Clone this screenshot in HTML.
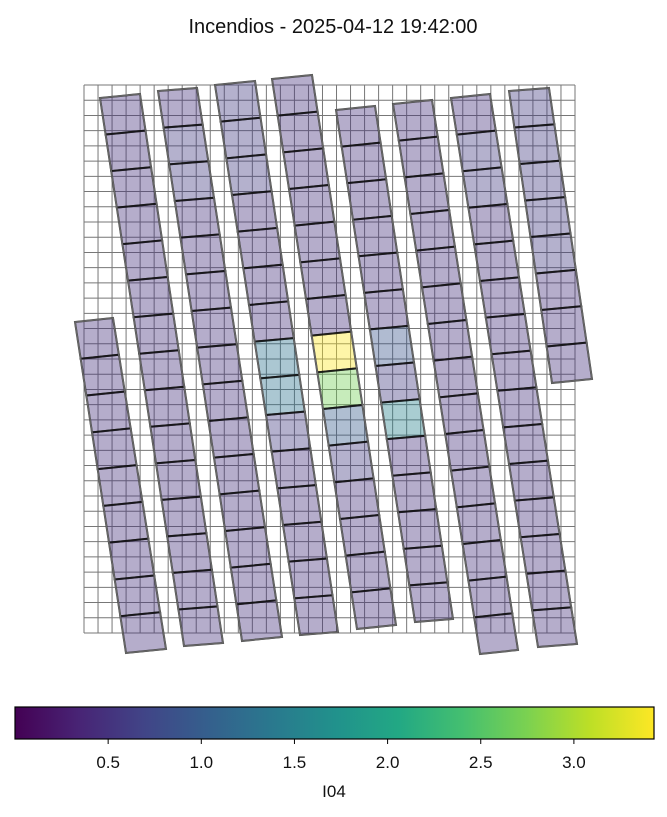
<!DOCTYPE html>
<html><head><meta charset="utf-8">
<style>
html,body{margin:0;padding:0;background:#fff;}
svg{display:block;font-family:"Liberation Sans","DejaVu Sans",sans-serif;}
</style></head>
<body>
<svg id="chart" width="667" height="817" viewBox="0 0 667 817" xmlns="http://www.w3.org/2000/svg">
<text x="333" y="33" text-anchor="middle" font-size="20" fill="#111">Incendios - 2025-04-12 19:42:00</text>
<g id="grid"></g>
<g id="strips"></g>
<defs>
<linearGradient id="viridis" x1="0" x2="1" y1="0" y2="0">
<stop offset="0" stop-color="#440154"/><stop offset="0.1" stop-color="#482475"/><stop offset="0.2" stop-color="#414487"/><stop offset="0.3" stop-color="#355f8d"/><stop offset="0.4" stop-color="#2a788e"/><stop offset="0.5" stop-color="#21918c"/><stop offset="0.6" stop-color="#22a884"/><stop offset="0.7" stop-color="#44bf70"/><stop offset="0.8" stop-color="#7ad151"/><stop offset="0.9" stop-color="#bddf26"/><stop offset="1" stop-color="#fde725"/>
</linearGradient>
</defs>
<rect x="15" y="707" width="639" height="32" fill="url(#viridis)" stroke="#000" stroke-width="1.2"/>
<g id="cbticks"></g>
<text x="334" y="797" text-anchor="middle" font-size="17" fill="#111">I04</text>
</svg>
<script>
const NS="http://www.w3.org/2000/svg";
const vmin=0, vmax=3.43;
const tickValues=[0.5,1.0,1.5,2.0,2.5,3.0];
const tickLabels=["0.5","1.0","1.5","2.0","2.5","3.0"];
const valsL=[0.5,0.5,0.5,0.5,0.5,0.5,0.5,0.5,0.5];
const vals1=[0.5,0.5,0.5,0.5,0.5,0.5,0.5,0.5,0.5,0.5,0.5,0.5,0.5,0.5,0.5];
const vals2=[0.5,0.6,0.6,0.5,0.5,0.5,0.5,0.5,0.5,0.5,0.5,0.5,0.5,0.5,0.5];
const vals3=[0.6,0.6,0.6,0.5,0.5,0.5,0.5,1.3,1.3,0.6,0.5,0.5,0.5,0.5,0.5];
const vals4=[0.5,0.5,0.5,0.5,0.5,0.5,0.5,3.43,2.7,1.0,0.6,0.5,0.5,0.5,0.5];
const vals5=[0.5,0.5,0.5,0.5,0.5,0.5,0.9,0.6,1.5,0.5,0.5,0.5,0.5,0.5];
const vals6=[0.5,0.5,0.5,0.5,0.5,0.5,0.5,0.5,0.5,0.5,0.5,0.5,0.5,0.5,0.5];
const vals7=[0.5,0.6,0.6,0.5,0.5,0.5,0.5,0.5,0.5,0.5,0.5,0.5,0.5,0.5,0.5];
const vals8=[0.6,0.6,0.6,0.6,0.6,0.5,0.5,0.5];
const strips=[
 {v:valsL,c:[[75,322],[113,318],[166,649],[126,653]]},
 {v:vals1,c:[[100,98],[140,94],[223,643],[184,646]]},
 {v:vals2,c:[[158,91],[197,88],[282,637],[242,641]]},
 {v:vals3,c:[[215,85],[255,81],[338,632],[300,635]]},
 {v:vals4,c:[[272,79],[312,75],[396,625],[357,629]]},
 {v:vals5,c:[[336,110],[375,106],[453,619],[415,622]]},
 {v:vals6,c:[[393,104],[432,100],[518,650],[480,654]]},
 {v:vals7,c:[[451,98],[490,94],[577,644],[538,647]]},
 {v:vals8,c:[[509,91],[549,88],[592,379],[552,383]]}
];
const stops=[[0,[68,1,84]],[0.1,[72,36,117]],[0.2,[65,68,135]],[0.3,[53,95,141]],[0.4,[42,120,142]],[0.5,[33,145,140]],[0.6,[34,168,132]],[0.7,[68,191,112]],[0.8,[122,209,81]],[0.9,[189,223,38]],[1,[253,231,37]]];
function viridis(v){
  let t=Math.max(0,Math.min(1,(v-vmin)/(vmax-vmin)));
  for(let i=1;i<stops.length;i++){
    if(t<=stops[i][0]){const a=stops[i-1],b=stops[i];const f=(t-a[0])/(b[0]-a[0]);
      return "rgb("+[0,1,2].map(k=>Math.round(a[1][k]+(b[1][k]-a[1][k])*f)).join(",")+")";}
  }
  return "rgb(253,231,37)";
}
function xCb(v){return 15+(v-vmin)/(vmax-vmin)*639;}
const grid=document.getElementById('grid');
const gx0=84,gx1=575,gy0=85,gy1=633,ncol=35,nrow=36;
for(let i=0;i<=ncol;i++){const x=gx0+(gx1-gx0)*i/ncol;const l=document.createElementNS(NS,'line');
 l.setAttribute('x1',x);l.setAttribute('x2',x);l.setAttribute('y1',gy0);l.setAttribute('y2',gy1);
 l.setAttribute('stroke','#777');l.setAttribute('stroke-width','1');
 
 
 grid.appendChild(l);}
for(let j=0;j<=nrow;j++){const y=gy0+(gy1-gy0)*j/nrow;const l=document.createElementNS(NS,'line');
 l.setAttribute('x1',gx0);l.setAttribute('x2',gx1);l.setAttribute('y1',y);l.setAttribute('y2',y);
 l.setAttribute('stroke','#777');l.setAttribute('stroke-width','1');
 
 
 grid.appendChild(l);}
const sg=document.getElementById('strips');
function lerp(p,q,t){return [p[0]+(q[0]-p[0])*t,p[1]+(q[1]-p[1])*t];}
strips.forEach((s,si)=>{
  const [TL,TR,BR,BL]=s.c;const n=s.v.length;
  const g=document.createElementNS(NS,'g');
  
  
  s.v.forEach((val,k)=>{
    const a=lerp(TL,BL,k/n),b=lerp(TR,BR,k/n),c=lerp(TR,BR,(k+1)/n),d=lerp(TL,BL,(k+1)/n);
    const p=document.createElementNS(NS,'polygon');
    p.setAttribute('points',[a,b,c,d].map(q=>q.join(',')).join(' '));
    p.setAttribute('fill',viridis(val));p.setAttribute('fill-opacity','0.4');
    p.setAttribute('stroke','#111');p.setAttribute('stroke-opacity','0.8');p.setAttribute('stroke-width','2');
    
    
    g.appendChild(p);
  });
  const o=document.createElementNS(NS,'polygon');
  o.setAttribute('points',[TL,TR,BR,BL].map(q=>q.join(',')).join(' '));
  o.setAttribute('fill','none');o.setAttribute('stroke','#666');o.setAttribute('stroke-width','1.6');
  
  
  g.appendChild(o);
  sg.appendChild(g);
});
const tg=document.getElementById('cbticks');
tickValues.forEach((v,i)=>{
  const x=xCb(v);
  const l=document.createElementNS(NS,'line');
  l.setAttribute('x1',x);l.setAttribute('x2',x);l.setAttribute('y1',739);l.setAttribute('y2',744);
  l.setAttribute('stroke','#000');l.setAttribute('stroke-width','1');
  
  
  tg.appendChild(l);
  const t=document.createElementNS(NS,'text');
  t.setAttribute('x',x);t.setAttribute('y',768);t.setAttribute('text-anchor','middle');
  t.setAttribute('font-size','17');t.setAttribute('fill','#111');
  t.textContent=tickLabels[i];
  
  
  tg.appendChild(t);
});
</script>
</body></html>
